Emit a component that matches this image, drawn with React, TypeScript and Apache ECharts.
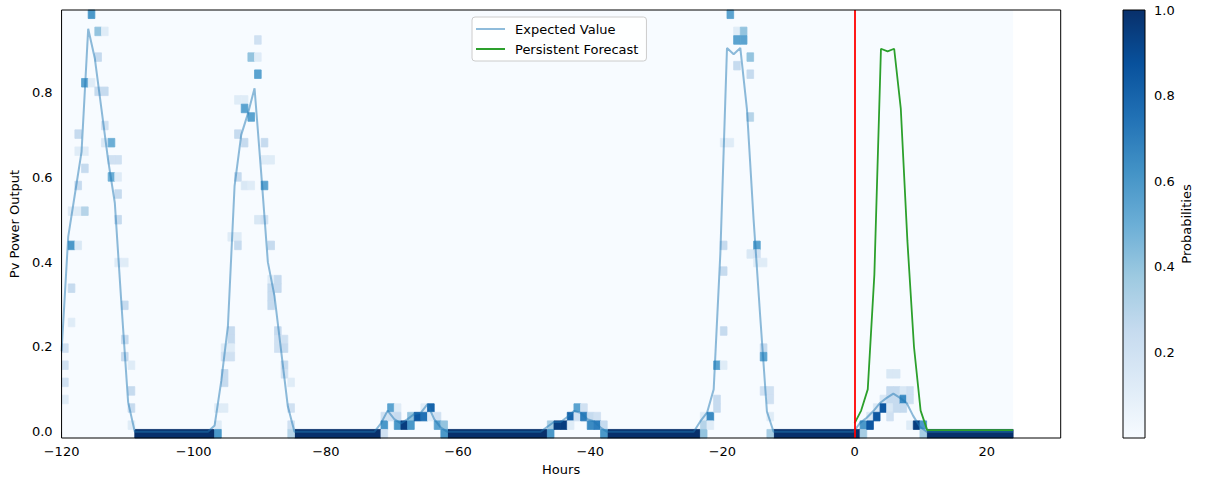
import React, { useEffect, useRef } from 'react';
import * as echarts from 'echarts';

// ---------- data ----------
const HOUR_START = -120;
const HOUR_END = 24;
const N_COLS = 143; // probability columns between the hour edges
const N_BINS = 50; // power bins
const Y_MIN = -0.0146;
const Y_MAX = 0.9944;
const X_MAX = 31.2;

// expected value, one per hour edge from -120 to 23
const expectedValue = [
  // -120..-110
  0.19, 0.46, 0.56, 0.66, 0.95, 0.88, 0.76, 0.64, 0.54, 0.30, 0.07,
  // -109..-98
  0, 0, 0, 0, 0, 0, 0, 0, 0, 0, 0, 0,
  // -97..-86
  0.015, 0.12, 0.25, 0.58, 0.70, 0.75, 0.81, 0.61, 0.40, 0.32, 0.19, 0.06,
  // -85..-73
  0, 0, 0, 0, 0, 0, 0, 0, 0, 0, 0, 0, 0,
  // -72..-63
  0.02, 0.05, 0.03, 0.02, 0.03, 0.042, 0.045, 0.065, 0.03, 0.01,
  // -62..-48
  0, 0, 0, 0, 0, 0, 0, 0, 0, 0, 0, 0, 0, 0, 0,
  // -47..-39
  0.012, 0.023, 0.023, 0.035, 0.049, 0.045, 0.03, 0.025, 0.01,
  // -38..-25
  0, 0, 0, 0, 0, 0, 0, 0, 0, 0, 0, 0, 0, 0,
  // -24..-14
  0.025, 0.045, 0.10, 0.42, 0.905, 0.89, 0.905, 0.76, 0.50, 0.27, 0.048,
  // -13..-1
  0, 0, 0, 0, 0, 0, 0, 0, 0, 0, 0, 0, 0,
  // 0..9
  0.021, 0.033, 0.049, 0.068, 0.08, 0.09, 0.08, 0.068, 0.037, 0.012,
  // 10..23
  0, 0, 0, 0, 0, 0, 0, 0, 0, 0, 0, 0, 0, 0,
];

const persistentHours = [0, 1, 2, 3, 4, 5, 6, 7, 8, 9, 10, 11, 12, 13, 14, 15, 16, 17, 18, 19, 20, 21, 22, 23, 24];
const persistentForecast = [
  0.02, 0.05, 0.10, 0.37, 0.903, 0.897, 0.903, 0.762, 0.45, 0.20, 0.05, 0.004,
  0.004, 0.004, 0.004, 0.004, 0.004, 0.004, 0.004, 0.004, 0.004, 0.004, 0.004, 0.004, 0.004,
];

// hours whose whole probability sits in the zero bin
const nightRanges: [number, number][] = [
  [-109, -98], [-85, -73], [-62, -48], [-38, -25], [-13, -1], [10, 22],
];

// [hour, bin, probability]
const probCells: [number, number, number][] = [
  [-120, 10, 0.2], [-120, 8, 0.2], [-120, 6, 0.2], [-120, 4, 0.12],
  [-119, 26, 0.12], [-119, 22, 0.6], [-119, 17, 0.25], [-119, 13, 0.12],
  [-118, 35, 0.25], [-118, 33, 0.12], [-118, 29, 0.25], [-118, 26, 0.12], [-118, 22, 0.15],
  [-117, 41, 0.55], [-117, 33, 0.12], [-117, 31, 0.25], [-117, 26, 0.3],
  [-116, 49, 0.6], [-116, 41, 0.12],
  [-115, 47, 0.4], [-115, 44, 0.25], [-115, 40, 0.25],
  [-114, 47, 0.12], [-114, 40, 0.25], [-114, 36, 0.2], [-114, 34, 0.15],
  [-113, 34, 0.5], [-113, 32, 0.2], [-113, 30, 0.5],
  [-112, 32, 0.2], [-112, 30, 0.12], [-112, 28, 0.25], [-112, 25, 0.25], [-112, 20, 0.12],
  [-111, 20, 0.12], [-111, 15, 0.25], [-111, 11, 0.25], [-111, 9, 0.25],
  [-110, 8, 0.12], [-110, 5, 0.25], [-110, 3, 0.25], [-110, 1, 0.12],

  [-97, 3, 0.12], [-97, 1, 0.12], [-97, 0, 0.6],
  [-96, 10, 0.12], [-96, 9, 0.2], [-96, 7, 0.25], [-96, 6, 0.25], [-96, 3, 0.12],
  [-95, 23, 0.12], [-95, 12, 0.25], [-95, 11, 0.25], [-95, 10, 0.12], [-95, 9, 0.2],
  [-94, 39, 0.12], [-94, 35, 0.25], [-94, 30, 0.25], [-94, 23, 0.12], [-94, 22, 0.25],
  [-93, 39, 0.12], [-93, 38, 0.55], [-93, 34, 0.25], [-93, 29, 0.15],
  [-92, 44, 0.4], [-92, 37, 0.55], [-92, 29, 0.12],
  [-91, 46, 0.2], [-91, 44, 0.12], [-91, 42, 0.55], [-91, 25, 0.15],
  [-90, 34, 0.25], [-90, 32, 0.12], [-90, 29, 0.55], [-90, 25, 0.2],
  [-89, 32, 0.12], [-89, 22, 0.25], [-89, 18, 0.12], [-89, 17, 0.25], [-89, 16, 0.25], [-89, 15, 0.25],
  [-88, 18, 0.25], [-88, 17, 0.25], [-88, 12, 0.25], [-88, 11, 0.2], [-88, 10, 0.2],
  [-87, 11, 0.2], [-87, 10, 0.25], [-87, 8, 0.25], [-87, 7, 0.2],
  [-86, 6, 0.12], [-86, 3, 0.2], [-86, 1, 0.2], [-86, 0, 0.3],

  [-72, 2, 0.2], [-72, 1, 0.6], [-72, 0, 0.2],
  [-71, 3, 0.55], [-71, 2, 0.2],
  [-70, 3, 0.12], [-70, 2, 0.25], [-70, 1, 0.6],
  [-69, 1, 0.95],
  [-68, 2, 0.4], [-68, 1, 0.6],
  [-67, 2, 0.85],
  [-66, 3, 0.12], [-66, 2, 0.75],
  [-65, 3, 0.8], [-65, 2, 0.12],
  [-64, 2, 0.2], [-64, 1, 0.55],
  [-63, 1, 0.4], [-63, 0, 0.6],

  [-47, 1, 0.35], [-47, 0, 0.6],
  [-46, 1, 0.95],
  [-45, 1, 0.95],
  [-44, 2, 0.8], [-44, 1, 0.12],
  [-43, 3, 0.55], [-43, 2, 0.2],
  [-42, 3, 0.2], [-42, 2, 0.7],
  [-41, 2, 0.25], [-41, 1, 0.65],
  [-40, 2, 0.2], [-40, 1, 0.7],
  [-39, 1, 0.25], [-39, 0, 0.6],

  [-24, 2, 0.12], [-24, 1, 0.3], [-24, 0, 0.4],
  [-23, 2, 0.65], [-23, 1, 0.12],
  [-22, 8, 0.55], [-22, 4, 0.25], [-22, 3, 0.25],
  [-21, 34, 0.12], [-21, 22, 0.25], [-21, 19, 0.25], [-21, 12, 0.25], [-21, 8, 0.12],
  [-20, 49, 0.55], [-20, 34, 0.12],
  [-19, 47, 0.12], [-19, 46, 0.55], [-19, 43, 0.25],
  [-18, 47, 0.4], [-18, 46, 0.55],
  [-17, 44, 0.4], [-17, 42, 0.25], [-17, 37, 0.3], [-17, 21, 0.15],
  [-16, 22, 0.55], [-16, 21, 0.2], [-16, 20, 0.12],
  [-15, 20, 0.12], [-15, 10, 0.25], [-15, 9, 0.55], [-15, 5, 0.2],
  [-14, 5, 0.2], [-14, 4, 0.2], [-14, 2, 0.12], [-14, 0, 0.35],

  [0, 1, 0.6], [0, 0, 0.35],
  [1, 2, 0.15], [1, 1, 0.85],
  [2, 3, 0.15], [2, 2, 0.85],
  [3, 4, 0.15], [3, 3, 0.85],
  [4, 7, 0.15], [4, 5, 0.25], [4, 4, 0.25], [4, 3, 0.15], [4, 2, 0.2],
  [5, 7, 0.15], [5, 5, 0.25], [5, 4, 0.25], [5, 3, 0.25],
  [6, 5, 0.15], [6, 4, 0.65], [6, 3, 0.25],
  [7, 5, 0.2], [7, 4, 0.2], [7, 1, 0.12],
  [8, 1, 0.95],
  [9, 1, 0.6], [9, 0, 0.35],
];

const xTicks = [-120, -100, -80, -60, -40, -20, 0, 20];
const yTicks = [0, 0.2, 0.4, 0.6, 0.8];
const cbTicks = [0.2, 0.4, 0.6, 0.8, 1.0];

const BLUES = ['#f7fbff', '#deebf7', '#c6dbef', '#9ecae1', '#6baed6', '#4292c6', '#2171b5', '#08519c', '#08306b'];

// ---------- helpers ----------
const FONT = "'DejaVu Sans', sans-serif";

function hexToRgb(h: string) {
  return [parseInt(h.slice(1, 3), 16), parseInt(h.slice(3, 5), 16), parseInt(h.slice(5, 7), 16)];
}
function blues(t: number) {
  const c = Math.max(0, Math.min(1, t)) * (BLUES.length - 1);
  const i = Math.min(BLUES.length - 2, Math.floor(c));
  const f = c - i;
  const a = hexToRgb(BLUES[i]);
  const b = hexToRgb(BLUES[i + 1]);
  const m = a.map((v, k) => Math.round(v + (b[k] - v) * f));
  return `rgb(${m[0]},${m[1]},${m[2]})`;
}
const fmtMinus = (v: number) => (v < 0 ? '\u2212' + Math.abs(v) : String(v));

const colStep = (HOUR_END - HOUR_START) / N_COLS;
const binStep = (Y_MAX - Y_MIN) / N_BINS;

function spanRect(hourFrom: number, hourTo: number, bin: number, p: number) {
  const j0 = hourFrom - HOUR_START;
  const j1 = hourTo - HOUR_START + 1;
  return [HOUR_START + j0 * colStep, HOUR_START + j1 * colStep, Y_MIN + bin * binStep, Y_MIN + (bin + 1) * binStep, p];
}

export default function App() {
  const ref = useRef<HTMLDivElement>(null);

  useEffect(() => {
    if (!ref.current) return;
    const chart = echarts.init(ref.current, null, { renderer: 'svg' });

    const cellData: number[][] = [];
    nightRanges.forEach(([a, b]) => cellData.push(spanRect(a, b, 0, 1)));
    probCells.forEach(([h, k, p]) => cellData.push(spanRect(h, h, k, p)));

    const evData = expectedValue.map((v, i) => [HOUR_START + i * colStep, v]);
    const pfData = persistentForecast.map((v, i) => [persistentHours[i], v]);

    const makeRectItem = (strokeW: number) => (params: any, api: any) => {
      const x0 = api.value(0), x1 = api.value(1), y0 = api.value(2), y1 = api.value(3), p = api.value(4);
      const tl = api.coord([x0, y1]);
      const br = api.coord([x1, y0]);
      const fill = blues(p);
      return {
        type: 'rect',
        shape: { x: tl[0], y: tl[1], width: br[0] - tl[0], height: br[1] - tl[1] },
        style: { fill, stroke: strokeW > 0 ? fill : 'none', lineWidth: strokeW },
      };
    };

    const frameItem = (params: any) => {
      const cs = params.coordSys;
      return {
        type: 'rect',
        shape: { x: cs.x, y: cs.y, width: cs.width, height: cs.height },
        style: { fill: 'none', stroke: '#000', lineWidth: 1 },
      };
    };

    const gradient = new echarts.graphic.LinearGradient(0, 1, 0, 0,
      BLUES.map((c, i) => ({ offset: i / (BLUES.length - 1), color: c })));

    const labelStyle = { color: '#000', fontSize: 13, fontFamily: FONT };

    const option: any = {
      animation: false,
      textStyle: { fontFamily: FONT },
      grid: [
        { left: 60, top: 10, width: 1000.7, height: 428 },
        { left: 1123, top: 10, width: 22, height: 428 },
      ],
      legend: {
        data: [
          { name: 'Expected Value', icon: 'rect', itemStyle: { color: '#8fbcdb' } },
          { name: 'Persistent Forecast', icon: 'rect', itemStyle: { color: '#2ca02c' } },
        ],
        orient: 'vertical',
        left: 472,
        top: 17,
        itemWidth: 29,
        itemHeight: 2,
        itemGap: 6,
        padding: [5, 8, 5, 4],
        backgroundColor: 'rgba(255,255,255,0.85)',
        borderColor: '#cccccc',
        borderWidth: 1,
        borderRadius: 3,
        selectedMode: false,
        textStyle: { ...labelStyle, lineHeight: 14, padding: [0, 0, 0, 5] },
      },
      xAxis: [
        {
          type: 'value', gridIndex: 0, min: HOUR_START, max: X_MAX,
          axisLine: { show: false }, splitLine: { show: false },
          axisTick: { show: true, length: 5, lineStyle: { color: '#000' }, customValues: xTicks },
          axisLabel: { ...labelStyle, margin: 7, customValues: xTicks, formatter: (v: number) => fmtMinus(v) },
          name: 'Hours', nameLocation: 'middle', nameGap: 25, nameTextStyle: labelStyle,
        },
        { type: 'value', gridIndex: 1, min: 0, max: 1, show: false },
      ],
      yAxis: [
        {
          type: 'value', gridIndex: 0, min: Y_MIN, max: Y_MAX,
          axisLine: { show: false }, splitLine: { show: false },
          axisTick: { show: true, length: 5, lineStyle: { color: '#000' }, customValues: yTicks },
          axisLabel: { ...labelStyle, margin: 9, customValues: yTicks, formatter: (v: number) => v.toFixed(1) },
          name: 'Pv Power Output', nameLocation: 'middle', nameGap: 36, nameRotate: 90, nameTextStyle: labelStyle,
        },
        {
          type: 'value', gridIndex: 1, position: 'right', min: 0, max: 1,
          axisLine: { show: false }, splitLine: { show: false },
          axisTick: { show: true, length: 5, lineStyle: { color: '#000' }, customValues: cbTicks },
          axisLabel: { ...labelStyle, margin: 9, customValues: cbTicks, formatter: (v: number) => v.toFixed(1) },
          name: 'Probabilities', nameLocation: 'middle', nameGap: 35, nameRotate: 90, nameTextStyle: labelStyle,
        },
      ],
      series: [
        {
          type: 'custom', name: 'bg', xAxisIndex: 0, yAxisIndex: 0, z: 1, silent: true,
          dimensions: ['x0', 'x1', 'y0', 'y1', 'p'], encode: { x: [0, 1], y: [2, 3] },
          data: [[HOUR_START, HOUR_END, Y_MIN, Y_MAX, 0]],
          renderItem: makeRectItem(0),
        },
        {
          type: 'custom', name: 'cells', xAxisIndex: 0, yAxisIndex: 0, z: 2, silent: true,
          dimensions: ['x0', 'x1', 'y0', 'y1', 'p'], encode: { x: [0, 1], y: [2, 3] },
          data: cellData,
          renderItem: makeRectItem(0.8),
        },
        {
          type: 'line', name: 'Expected Value', xAxisIndex: 0, yAxisIndex: 0, z: 3,
          data: evData, symbol: 'none', silent: true,
          lineStyle: { color: '#1f77b4', width: 2, opacity: 0.5 },
          itemStyle: { color: '#8fbcdb' },
        },
        {
          type: 'line', name: 'Persistent Forecast', xAxisIndex: 0, yAxisIndex: 0, z: 4,
          data: pfData, symbol: 'none', silent: true,
          lineStyle: { color: '#2ca02c', width: 1.8 },
          itemStyle: { color: '#2ca02c' },
          markLine: {
            silent: true, symbol: ['none', 'none'], label: { show: false },
            lineStyle: { color: '#ff0000', width: 1.8, type: 'solid', opacity: 1 },
            data: [{ xAxis: 0 }],
          },
        },
        {
          type: 'custom', name: 'frame', xAxisIndex: 0, yAxisIndex: 0, z: 10, silent: true,
          data: [[0, 0]], renderItem: frameItem,
        },
        {
          type: 'custom', name: 'colorbar', xAxisIndex: 1, yAxisIndex: 1, z: 2, silent: true,
          data: [[0, 1]],
          renderItem: (params: any, api: any) => {
            const tl = api.coord([0, 1]);
            const br = api.coord([1, 0]);
            return {
              type: 'rect',
              shape: { x: tl[0], y: tl[1], width: br[0] - tl[0], height: br[1] - tl[1] },
              style: { fill: gradient, stroke: '#000', lineWidth: 1 },
            };
          },
        },
      ],
    };

    chart.setOption(option);
    return () => chart.dispose();
  }, []);

  return (
    <div
      ref={ref}
      style={{ position: 'fixed', left: 0, top: 0, width: 1207, height: 484, background: '#fff' }}
    />
  );
}
